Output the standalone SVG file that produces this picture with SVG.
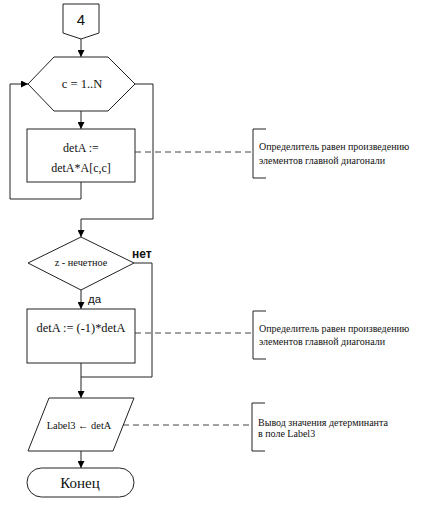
<svg xmlns="http://www.w3.org/2000/svg" width="427" height="511" viewBox="0 0 427 511">
<defs>
<marker id="arr" viewBox="0 0 10 10" refX="10" refY="5" markerWidth="7" markerHeight="7" markerUnits="userSpaceOnUse" orient="auto"><path d="M0,0 L10,5 L0,10 z" fill="#000"/></marker>
<style>
.s{fill:#fff;stroke:#222;stroke-width:1}
.l{fill:none;stroke:#222;stroke-width:1}
.d{fill:none;stroke:#444;stroke-width:1;stroke-dasharray:6,4}
.t{font-family:"Liberation Serif","Times New Roman",serif;fill:#111;text-anchor:middle}
.c{font-family:"Liberation Serif","Times New Roman",serif;fill:#111;font-size:10px}
.a{font-family:"Liberation Sans",Arial,sans-serif;fill:#111}
</style>
</defs>
<rect width="427" height="511" fill="#fff"/>
<g id="connectors">
<line class="l" x1="81" y1="39" x2="81" y2="57" marker-end="url(#arr)"/>
<line class="l" x1="81" y1="111" x2="81" y2="129" marker-end="url(#arr)"/>
<polyline class="l" points="81,182 81,199 10,199 10,84 28,84" marker-end="url(#arr)"/>
<polyline class="l" points="135,84 153,84 153,219 81,219 81,237" marker-end="url(#arr)"/>
<line class="l" x1="81" y1="290" x2="81" y2="309" marker-end="url(#arr)"/>
<polyline class="l" points="134,263 152,263 152,377 81,377"/>
<line class="l" x1="81" y1="363" x2="81" y2="398" marker-end="url(#arr)"/>
<line class="l" x1="81" y1="451" x2="81" y2="468" marker-end="url(#arr)"/>
<line class="d" x1="135" y1="152" x2="253" y2="152"/>
<line class="d" x1="135" y1="333" x2="253" y2="333"/>
<line class="d" x1="123" y1="425" x2="252" y2="425"/>
<text class="a" x="132" y="258" font-size="12" font-weight="bold">нет</text>
<text class="a" x="88" y="303" font-size="11.5">да</text>
</g>
<g id="n4">
<polygon class="s" points="63,4 99,4 99,33 81,39 63,33"/>
<text class="a" x="81" y="25" font-size="15" text-anchor="middle">4</text>
</g>
<g id="loop">
<polygon class="s" points="54,57 108,57 135,84 108,111 54,111 28,84"/>
<text class="t" x="82" y="88" font-size="12.5">c = 1..N</text>
</g>
<g id="mult">
<rect class="s" x="27" y="129" width="108" height="53"/>
<text class="t" x="81" y="152" font-size="12">detA :=</text>
<text class="t" x="81" y="172" font-size="12">detA*A[c,c]</text>
</g>
<g id="cond">
<polygon class="s" points="81,237 134,263 81,290 28,263"/>
<text class="t" x="81" y="266" font-size="10.3">z - нечетное</text>
</g>
<g id="neg">
<rect class="s" x="27" y="309" width="108" height="54"/>
<text class="t" x="81" y="332" font-size="12.4">detA := (-1)*detA</text>
</g>
<g id="out">
<polygon class="s" points="49,398 134,398 113,451 28,451"/>
<text class="t" x="79" y="429" font-size="10.4">Label3 ← detA</text>
</g>
<g id="end">
<rect class="s" x="27" y="468" width="107" height="29" rx="14.5" ry="14.5"/>
<text class="t" x="80" y="488" font-size="15">Конец</text>
</g>
<g id="comment1">
<polyline class="l" points="266,129 253,129 253,178 266,178"/>
<text class="c" x="259" y="150">Определитель равен произведению</text>
<text class="c" x="259" y="164">элементов главной диагонали</text>
</g>
<g id="comment2">
<polyline class="l" points="266,311 253,311 253,359 266,359"/>
<text class="c" x="259" y="332">Определитель равен произведению</text>
<text class="c" x="259" y="345">элементов главной диагонали</text>
</g>
<g id="comment3">
<polyline class="l" points="265,403 252,403 252,451 265,451"/>
<text class="c" x="258" y="426">Вывод значения детерминанта</text>
<text class="c" x="258" y="437">в поле Label3</text>
</g>
</svg>
